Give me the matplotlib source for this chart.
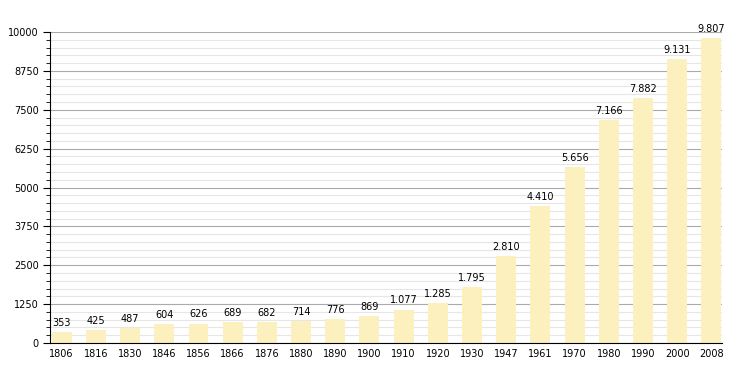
import numpy as np
from matplotlib import pyplot as plt
from matplotlib.ticker import MultipleLocator

years = ["1806", "1816", "1830", "1846", "1856", "1866", "1876", "1880", "1890", "1900",
         "1910", "1920", "1930", "1947", "1961", "1970", "1980", "1990", "2000", "2008"]
pop = [353, 425, 487, 604, 626, 689, 682, 714, 776, 869,
       1077, 1285, 1795, 2810, 4410, 5656, 7166, 7882, 9131, 9807]

def fmt(v):
	return "{:,}".format(v).replace(",", ".")

fig = plt.figure(figsize=(7.5, 3.73), dpi=100)
ax = fig.add_axes([50/750, 30/373, 672/750, 311/373])

x = np.arange(len(years))
ax.bar(x, pop, width=0.58, color="#fcf0be", zorder=2)
for xi, v in zip(x, pop):
	ax.text(xi, v + 130, fmt(v), ha="center", va="bottom", fontsize=7, zorder=3)

ax.set_xlim(-0.34, 19.31)
ax.set_ylim(0, 10000)
ax.set_xticks(x)
ax.set_xticklabels(years)
ax.yaxis.set_major_locator(MultipleLocator(1250))
ax.yaxis.set_minor_locator(MultipleLocator(250))
ax.set_yticks(np.arange(0, 10001, 1250))
ax.set_yticklabels([str(int(t)) for t in np.arange(0, 10001, 1250)])
ax.grid(axis="y", which="major", color="#aaaaaa", linewidth=0.8, zorder=0)
ax.grid(axis="y", which="minor", color="#e6e6e6", linewidth=0.8, zorder=0)
ax.tick_params(axis="y", which="major", length=5, labelsize=7, pad=3)
ax.tick_params(axis="y", which="minor", length=3)
ax.tick_params(axis="x", length=0, labelsize=7, pad=4)
ax.spines["top"].set_visible(False)
ax.spines["right"].set_visible(False)
ax.set_axisbelow(True)

fig.savefig("out.png", dpi=100)
